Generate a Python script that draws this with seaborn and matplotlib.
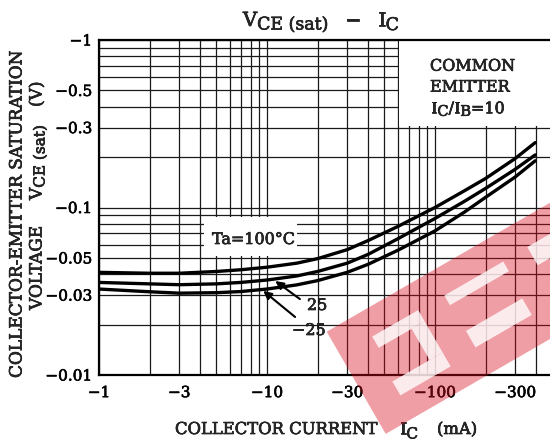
import numpy as np
import pandas as pd
import matplotlib
matplotlib.use("Agg")
import matplotlib.pyplot as plt
import matplotlib.patheffects as pe
import seaborn as sns
from matplotlib.patches import Polygon, Rectangle
from matplotlib.ticker import LogLocator, NullFormatter

# collector current (mA, magnitude) and Vce(sat) (V, magnitude)
IC_MA = [1, 2, 3, 5, 7, 10, 15, 20, 30, 40, 60, 100, 150, 200, 300, 395]
VCE_TA100 = [0.041, 0.0405, 0.0405, 0.0415, 0.0425, 0.044, 0.0465, 0.0495, 0.056, 0.0635,
             0.077, 0.100, 0.126, 0.149, 0.196, 0.244]
VCE_TA25 = [0.0357, 0.035, 0.0346, 0.035, 0.0357, 0.0369, 0.039, 0.0415, 0.0465, 0.0525,
            0.065, 0.086, 0.109, 0.130, 0.169, 0.206]
VCE_TAM25 = [0.0326, 0.0314, 0.0308, 0.031, 0.0315, 0.0326, 0.0345, 0.0366, 0.041, 0.0458,
             0.0555, 0.0725, 0.094, 0.115, 0.152, 0.190]
TA_LABELS = ["100", "25", "-25"]

X_TICKS = [1, 3, 10, 30, 100, 300]
X_LABELS = ["\u22121", "\u22123", "\u221210", "\u221230", "\u2212100", "\u2212300"]
Y_TICKS = [0.01, 0.03, 0.05, 0.1, 0.3, 0.5, 1]
Y_LABELS = ["\u22120.01", "\u22120.03", "\u22120.05", "\u22120.1", "\u22120.3", "\u22120.5", "\u22121"]

W, H = 550, 441
PE = [pe.withStroke(linewidth=0.45, foreground="black")]


def fx(px):
    return px / W


def fy(py):
    return 1 - py / H


sns.set_style("white")
plt.rcParams["font.family"] = ["DejaVu Serif"]

df = pd.DataFrame({
    "ic": IC_MA * 3,
    "vce": VCE_TA100 + VCE_TA25 + VCE_TAM25,
    "ta": [t for t in TA_LABELS for _ in IC_MA],
})

fig = plt.figure(figsize=(W / 100, H / 100), dpi=100)
renderer = fig.canvas.get_renderer()
ax = fig.add_axes([fx(99), fy(375), (552.4 - 99) / W, (375 - 40) / H])

sns.lineplot(data=df, x="ic", y="vce", hue="ta", palette={t: "black" for t in TA_LABELS},
             linewidth=2.4, legend=False, sort=False, ax=ax, zorder=3)

ax.set_xscale("log")
ax.set_yscale("log")
ax.set_xlim(1, 500)
ax.set_ylim(0.01, 1)
ax.set_xticks(X_TICKS, X_LABELS)
ax.set_yticks(Y_TICKS, Y_LABELS)
ax.xaxis.set_minor_locator(LogLocator(base=10, subs=np.arange(1, 10), numticks=50))
ax.yaxis.set_minor_locator(LogLocator(base=10, subs=np.arange(1, 10), numticks=50))
ax.xaxis.set_minor_formatter(NullFormatter())
ax.yaxis.set_minor_formatter(NullFormatter())
ax.grid(which="both", color="#1a1a1a", linewidth=0.9)
ax.set_axisbelow(True)
ax.tick_params(which="both", length=0, labelsize=11, colors="black")
ax.tick_params(axis="x", pad=8)
ax.tick_params(axis="y", pad=5)
for lbl in ax.get_xticklabels() + ax.get_yticklabels():
    lbl.set_path_effects(PE)
ax.set_xlabel("")
ax.set_ylabel("")
for side in ["top", "left", "bottom"]:
    ax.spines[side].set_color("black")
    ax.spines[side].set_linewidth(1.6)
ax.spines["right"].set_visible(False)

# white boxes behind the annotations
ax.add_patch(Rectangle((61, 0.305), 500 - 61, 0.7, facecolor="white", edgecolor="none", zorder=1))
ax.add_patch(Rectangle((4.2, 0.0515), 15.1 - 4.2, 0.088 - 0.0515, facecolor="white", edgecolor="none", zorder=1))

ax.annotate("", xy=(11.2, 0.0364), xytext=(15.7, 0.0284),
            arrowprops=dict(arrowstyle="-|>", color="black", lw=1.5, mutation_scale=12,
                            shrinkA=0, shrinkB=0), zorder=4)
ax.annotate("", xy=(9.5, 0.0318), xytext=(14.7, 0.0222),
            arrowprops=dict(arrowstyle="-|>", color="black", lw=1.5, mutation_scale=12,
                            shrinkA=0, shrinkB=0), zorder=4)


def runs_h(x, y, runs):
    # consecutive text pieces on one baseline; dy lowers a piece (subscript)
    for text, size, dy in runs:
        t = fig.text(fx(x), fy(y + dy), text, fontsize=size, ha="left", va="baseline",
                     path_effects=PE, zorder=5)
        x += t.get_window_extent(renderer).width


def runs_v(x, y, runs):
    # same, rotated 90 degrees, reading upward from (x, y)
    for text, size, dx in runs:
        t = fig.text(fx(x + dx), fy(y), text, fontsize=size, rotation=90, rotation_mode="anchor",
                     ha="left", va="baseline", path_effects=PE, zorder=5)
        y -= t.get_window_extent(renderer).height


# title
runs_h(243, 26, [("V", 14, 0), ("CE (sat)", 12.5, 3.5)])
runs_h(345, 26, [("\u2212", 14, 0)])
runs_h(378, 26, [("I", 14, 0), ("C", 12.5, 4)])

# annotations in the plot
runs_h(212, 244, [("Ta=100\u00b0C", 11.5, 0)])
runs_h(307, 310, [("25", 11.5, 0)])
runs_h(292, 335, [("\u221225", 11.5, 0)])
runs_h(430, 70.7, [("COMMON", 11.5, 0)])
runs_h(430, 91.7, [("EMITTER", 11.5, 0)])
runs_h(431, 113.3, [("I", 11.5, 0), ("C", 10.5, 2.5), ("/", 11.5, 0), ("I", 11.5, 0),
                    ("B", 10.5, 2.5), ("=10", 11.5, 0)])

# axis labels
runs_h(175, 434, [("COLLECTOR CURRENT", 11.8, 0)])
runs_h(400, 434, [("I", 11.8, 0), ("C", 11, 4.5)])
runs_h(437, 434, [("(mA)", 11.8, 0)])
runs_v(21.5, 378, [("COLLECTOR-EMITTER SATURATION", 12.2, 0)])
runs_v(41.5, 310, [("VOLTAGE", 12.2, 0)])
runs_v(41.5, 200, [("V", 12.2, 0), ("CE (sat)", 11, 3)])
runs_v(41.5, 107, [("(V)", 12.2, 0)])

# red watermark band across the lower right
o = np.array([326.7, 331.7])
u = np.array([0.866, -0.5])
v = np.array([0.5, 0.866])


def band_poly(s0, s1, t0, t1):
    pts = [o + s0 * u + t0 * v, o + s1 * u + t0 * v, o + s1 * u + t1 * v, o + s0 * u + t1 * v]
    return [(fx(p[0]), fy(p[1])) for p in pts]


fig.add_artist(Polygon(band_poly(0, 320, 0, 118), closed=True, transform=fig.transFigure,
                       facecolor=(0.85, 0.05, 0.12), alpha=0.4, edgecolor="none", zorder=10))
for s0, s1, t0, t1 in [(120, 188, 27.5, 38.7), (121, 186, 69, 88), (216, 260, 27, 48),
                       (37, 90, 27, 40), (75, 90, 40, 76), (32, 90, 76, 92)]:
    fig.add_artist(Polygon(band_poly(s0, s1, t0, t1), closed=True, transform=fig.transFigure,
                           facecolor="white", alpha=0.8, edgecolor="none", zorder=11))

fig.savefig("out.png", dpi=100)
